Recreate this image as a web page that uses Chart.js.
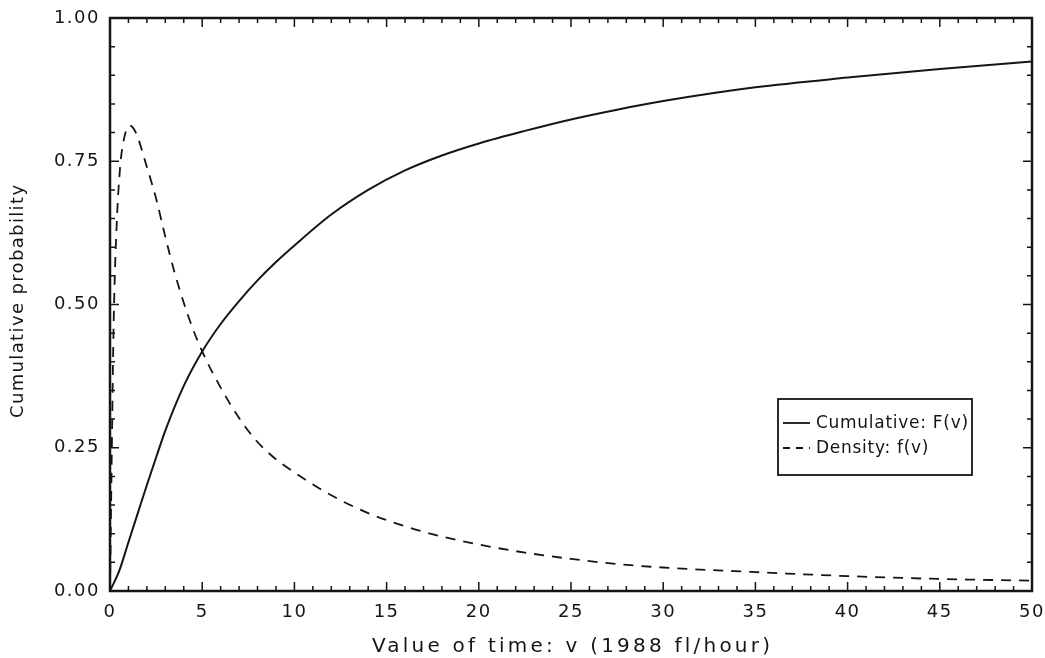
<!DOCTYPE html>
<html>
<head>
<meta charset="utf-8">
<script src="https://cdn.jsdelivr.net/npm/chart.js@4"></script>
<style>
  html, body { margin: 0; padding: 0; background: #fff; }
  #box { width: 1045px; height: 658px; }
</style>
</head>
<body>
<div id="box"><canvas id="valueChart"></canvas></div>
<script>
// value of time v (1988 fl/hour) and read-off curve values
const cumulativeV = [0, 0.5, 1, 1.5, 2, 2.5, 3, 4, 5, 6, 7, 8, 9, 10, 12, 14, 16, 18, 20, 22.5, 25, 27.5, 30, 35, 40, 45, 50];
const cumulativeF = [0, 0.035, 0.085, 0.135, 0.185, 0.233, 0.28, 0.358, 0.418, 0.466, 0.506, 0.542, 0.574, 0.603, 0.657, 0.7, 0.734, 0.76, 0.781, 0.803, 0.823, 0.84, 0.855, 0.879, 0.896, 0.911, 0.924];

const densityV = [0, 0.1, 0.2, 0.35, 0.55, 0.8, 1.1, 1.4, 2, 2.5, 3, 3.5, 4, 4.5, 5, 6, 7, 8, 9, 10, 12, 14, 16, 18, 20, 22.5, 25, 27.5, 30, 35, 40, 45, 50];
const densityF = [0, 0.25, 0.47, 0.63, 0.74, 0.795, 0.812, 0.8, 0.74, 0.685, 0.618, 0.556, 0.503, 0.457, 0.418, 0.355, 0.302, 0.26, 0.23, 0.207, 0.167, 0.136, 0.113, 0.095, 0.081, 0.067, 0.056, 0.047, 0.041, 0.033, 0.026, 0.021, 0.018];

const seriesNames = ["Cumulative: F(v)", "Density: f(v)"];
const xTickValues = [0, 5, 10, 15, 20, 25, 30, 35, 40, 45, 50];
const yTickValues = [0, 0.25, 0.5, 0.75, 1];
const xTitle = "Value of time: v (1988 fl/hour)";
const yTitle = "Cumulative probability";

const ink = "#151515";
const font = "'DejaVu Sans', sans-serif";

function toPoints(xs, ys) {
  return xs.map((v, i) => ({ x: v, y: ys[i] }));
}

// spread a string out so it spans about `target` px, like the scan's type
function spreadTo(ctx, text, target) {
  ctx.letterSpacing = "0px";
  const w = ctx.measureText(text).width;
  const gap = Math.max(0, (target - w) / (text.length - 1));
  ctx.letterSpacing = `${gap.toFixed(2)}px`;
}

const wideText = {
  id: "wideText",
  beforeUpdate(chart) { chart.ctx.letterSpacing = "1.5px"; },
  beforeDraw(chart) { chart.ctx.letterSpacing = "1.5px"; },
};

// frame with inward ticks on all four sides
const frameTicks = {
  id: "frameTicks",
  afterDatasetsDraw(chart) {
    const { ctx, chartArea: a, scales: { x, y } } = chart;
    ctx.save();
    ctx.strokeStyle = ink;
    ctx.lineWidth = 1.5;
    ctx.beginPath();
    for (let i = 0; i <= 50; i++) {
      const px = x.getPixelForValue(i);
      const len = i % 5 === 0 ? 9 : 5;
      ctx.moveTo(px, a.bottom); ctx.lineTo(px, a.bottom - len);
      ctx.moveTo(px, a.top); ctx.lineTo(px, a.top + len);
    }
    for (let i = 0; i <= 20; i++) {
      const py = y.getPixelForValue(i * 0.05);
      const len = i % 5 === 0 ? 9 : 5;
      ctx.moveTo(a.left, py); ctx.lineTo(a.left + len, py);
      ctx.moveTo(a.right, py); ctx.lineTo(a.right - len, py);
    }
    ctx.stroke();
    ctx.lineWidth = 2.5;
    ctx.strokeRect(a.left, a.top, a.right - a.left, a.bottom - a.top);
    ctx.restore();
  },
};

const axisTitles = {
  id: "axisTitles",
  afterDraw(chart) {
    const { ctx, chartArea: a } = chart;
    ctx.save();
    ctx.fillStyle = ink;
    ctx.textAlign = "left";
    ctx.textBaseline = "alphabetic";
    ctx.font = `20px ${font}`;
    spreadTo(ctx, xTitle, 398);
    ctx.fillText(xTitle, 372, 652);
    ctx.translate(23, 418);
    ctx.rotate(-Math.PI / 2);
    ctx.font = `18px ${font}`;
    spreadTo(ctx, yTitle, 233);
    ctx.fillText(yTitle, 0, 0);
    ctx.restore();
  },
};

// boxed legend sitting inside the plot
const boxLegend = {
  id: "boxLegend",
  afterDraw(chart) {
    const ctx = chart.ctx;
    const left = 778, top = 399, w = 194, h = 76;
    ctx.save();
    ctx.fillStyle = "#fff";
    ctx.fillRect(left, top, w, h);
    ctx.strokeStyle = ink;
    ctx.lineWidth = 1.8;
    ctx.strokeRect(left, top, w, h);
    ctx.font = `17px ${font}`;
    spreadTo(ctx, seriesNames[0], 152);
    ctx.textBaseline = "middle";
    ctx.fillStyle = ink;
    chart.data.datasets.forEach((ds, i) => {
      const cy = top + 24 + i * 25;
      ctx.beginPath();
      ctx.setLineDash(i === 0 ? [] : [7, 6]);
      ctx.lineWidth = 1.8;
      ctx.moveTo(left + 5, cy);
      ctx.lineTo(left + 32, cy);
      ctx.stroke();
      ctx.setLineDash([]);
      ctx.fillText(ds.label, left + 38, cy + 1);
    });
    ctx.restore();
  },
};

const ctx = document.getElementById("valueChart").getContext("2d");

const valueChart = new Chart(ctx, {
  type: "line",
  data: {
    datasets: [
      {
        label: seriesNames[0],
        data: toPoints(cumulativeV, cumulativeF),
        borderColor: ink,
        borderWidth: 2,
        pointRadius: 0,
        cubicInterpolationMode: "monotone",
      },
      {
        label: seriesNames[1],
        data: toPoints(densityV, densityF),
        borderColor: ink,
        borderWidth: 1.8,
        borderDash: [10, 8],
        pointRadius: 0,
        cubicInterpolationMode: "monotone",
      },
    ],
  },
  options: {
    responsive: true,
    maintainAspectRatio: false,
    animation: false,
    layout: {
      padding: { top: 18, right: 13, left: 0, bottom: 0 },
    },
    plugins: {
      legend: { display: false },
      tooltip: { enabled: false },
    },
    scales: {
      x: {
        type: "linear",
        min: 0,
        max: 50,
        afterBuildTicks: (scale) => {
          scale.ticks = xTickValues.map((v) => ({ value: v }));
        },
        afterFit: (scale) => {
          scale.height = 67;
          scale.paddingLeft = 0;
          scale.paddingRight = 0;
        },
        grid: { display: false, drawTicks: false },
        border: { display: false },
        ticks: {
          color: ink,
          padding: 11,
          maxRotation: 0,
          font: { family: font, size: 18 },
        },
      },
      y: {
        min: 0,
        max: 1,
        afterBuildTicks: (scale) => {
          scale.ticks = yTickValues.map((v) => ({ value: v }));
        },
        afterFit: (scale) => {
          scale.width = 110;
          scale.paddingTop = 0;
          scale.paddingBottom = 0;
        },
        grid: { display: false, drawTicks: false },
        border: { display: false },
        ticks: {
          color: ink,
          padding: 10,
          font: { family: font, size: 18 },
          callback: (v) => Number(v).toFixed(2),
        },
      },
    },
  },
  plugins: [wideText, frameTicks, axisTitles, boxLegend],
});
</script>
</body>
</html>
